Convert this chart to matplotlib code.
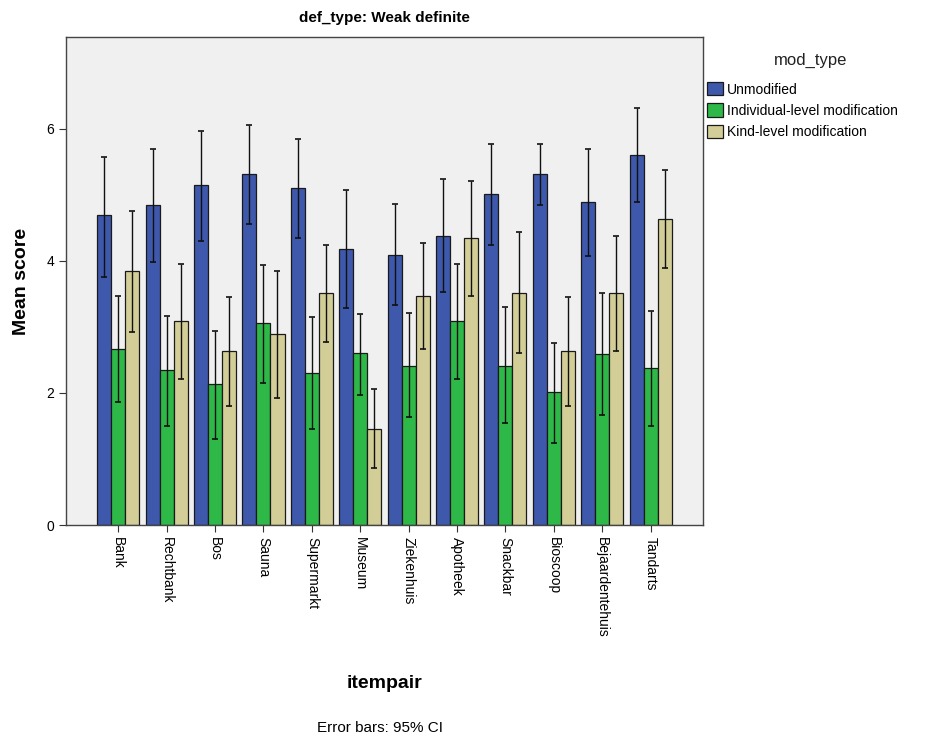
import matplotlib
matplotlib.use("Agg")
import matplotlib.pyplot as plt
import numpy as np
from matplotlib.patches import Patch

plt.rcParams['font.family'] = ['Liberation Sans', 'DejaVu Sans']

# item pairs on the x axis
itempairs = ["Bank", "Rechtbank", "Bos", "Sauna", "Supermarkt", "Museum",
             "Ziekenhuis", "Apotheek", "Snackbar", "Bioscoop", "Bejaardentehuis", "Tandarts"]
mod_types = ["Unmodified", "Individual-level modification", "Kind-level modification"]

# mean scores
unmod_mean = [4.69, 4.85, 5.15, 5.31, 5.10, 4.18, 4.09, 4.38, 5.02, 5.31, 4.89, 5.60]
indiv_mean = [2.67, 2.34, 2.14, 3.06, 2.30, 2.60, 2.41, 3.09, 2.41, 2.01, 2.59, 2.38]
kind_mean = [3.85, 3.09, 2.63, 2.89, 3.51, 1.46, 3.47, 4.35, 3.51, 2.64, 3.51, 4.64]

# 95% CI lower / upper
unmod_lo = [3.76, 3.99, 4.30, 4.56, 4.34, 3.29, 3.33, 3.53, 4.24, 4.84, 4.08, 4.89]
unmod_hi = [5.57, 5.70, 5.97, 6.06, 5.85, 5.07, 4.86, 5.24, 5.77, 5.77, 5.70, 6.31]
indiv_lo = [1.86, 1.50, 1.31, 2.15, 1.45, 1.97, 1.63, 2.21, 1.54, 1.24, 1.66, 1.50]
indiv_hi = [3.47, 3.17, 2.94, 3.94, 3.15, 3.20, 3.21, 3.96, 3.30, 2.76, 3.51, 3.24]
kind_lo = [2.93, 2.21, 1.80, 1.92, 2.77, 0.86, 2.66, 3.47, 2.60, 1.80, 2.64, 3.89]
kind_hi = [4.75, 3.96, 3.46, 3.85, 4.24, 2.06, 4.27, 5.21, 4.43, 3.46, 4.37, 5.38]

colors = ["#3E58AC", "#2EB848", "#D3CE97"]

fig = plt.figure(figsize=(9.26, 7.4), dpi=100)
ax = fig.add_axes([0.0713, 0.2905, 0.6877, 0.6595])
ax.set_facecolor("#F0F0F0")

x = np.arange(len(itempairs))
width = 0.29
series = [(unmod_mean, unmod_lo, unmod_hi),
          (indiv_mean, indiv_lo, indiv_hi),
          (kind_mean, kind_lo, kind_hi)]
for i, (mean, lo, hi) in enumerate(series):
    mean = np.array(mean)
    pos = x + (i - 1) * width
    ax.bar(pos, mean, width, color=colors[i], edgecolor="#1a1a1a", linewidth=0.9,
           label=mod_types[i], zorder=2)
    yerr = np.vstack([mean - np.array(lo), np.array(hi) - mean])
    ax.errorbar(pos, mean, yerr=yerr, fmt="none", ecolor="#111111", elinewidth=1.0,
                capsize=2, capthick=1.2, zorder=3)

ax.set_xlim(-1.08, len(itempairs) - 1 + 1.08)
ax.set_ylim(0, 7.39)
ax.set_yticks([0, 2, 4, 6])
ax.set_xticks(x)
ax.set_xticklabels(itempairs, rotation=-90, fontsize=10)
ax.tick_params(axis="y", labelsize=10, length=5, color="#333333")
ax.tick_params(axis="x", length=5, color="#333333")
for sp in ax.spines.values():
    sp.set_color("#444444")
    sp.set_linewidth(1.0)

ax.set_title("def_type: Weak definite", fontsize=11, fontweight="bold", pad=11)
ax.set_ylabel("Mean score", fontsize=14, fontweight="bold", labelpad=12)
fig.text(0.415, 0.077, "itempair", fontsize=14, fontweight="bold", ha="center", va="center")
fig.text(0.41, 0.016, "Error bars: 95% CI", fontsize=11, ha="center", va="center")

# legend title drawn separately so it can sit higher above the entries
fig.text(0.875, 0.919, "mod_type", fontsize=12, ha="center", va="center", color="#222222")
handles = [Patch(facecolor=c, edgecolor="#1a1a1a", linewidth=0.9) for c in colors]
fig.legend(handles, mod_types, loc="upper left",
           bbox_to_anchor=(0.764, 0.889), frameon=False, fontsize=10,
           handlelength=1.1, handleheight=1.1,
           handletextpad=0.3, labelspacing=0.5, borderaxespad=0, borderpad=0)

fig.savefig("out.png", dpi=100)
